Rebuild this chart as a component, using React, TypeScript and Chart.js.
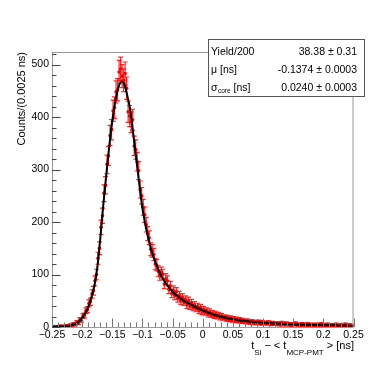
import { useEffect, useRef } from "react";
import { Chart, registerables } from "chart.js";
Chart.register(...registerables);

const FONT = "'Liberation Sans', Arial, Helvetica, sans-serif";

// Histogram: 200 bins of 0.0025 ns from -0.25 to 0.25 ns
const binLow = -0.25;
const binWidth = 0.0025;
const counts = [
  0, 1, 0, 1, 0, 2, 1, 0, 2, 1,
  3, 2, 4, 3, 6, 5, 9, 8, 14, 13,
  21, 22, 31, 33, 45, 48, 63, 69, 88, 100,
  131, 150, 190, 212, 255, 270, 310, 326, 365, 376,
  412, 418, 448, 452, 486, 492, 478, 470, 483, 455,
  410, 402, 390, 395, 345, 338, 315, 298, 262, 250,
  228, 214, 195, 178, 170, 148, 145, 138, 120, 118,
  106, 99, 104, 100, 82, 92, 88, 72, 78, 64,
  70, 60, 67, 55, 60, 50, 56, 48, 52, 42,
  50, 40, 46, 37, 42, 35, 39, 31, 37, 29,
  33, 28, 31, 24, 29, 23, 26, 21, 25, 20,
  23, 18, 21, 17, 19, 15, 18, 14, 17, 13,
  16, 12, 15, 11, 14, 10, 13, 11, 9, 12,
  10, 8, 11, 9, 7, 10, 8, 10, 6, 9,
  7, 8, 6, 9, 7, 5, 8, 6, 7, 5,
  7, 4, 8, 6, 4, 7, 5, 6, 3, 6,
  5, 7, 4, 5, 3, 6, 4, 5, 3, 6,
  4, 3, 5, 4, 2, 5, 3, 4, 6, 3,
  4, 2, 5, 3, 4, 2, 4, 3, 5, 2,
  3, 4, 2, 3, 5, 2, 3, 4, 2, 3,
];

// Fit curve sampled every 0.005 ns from -0.25 to 0.25
const fitStart = -0.25;
const fitStep = 0.005;
const fitValues = [
  0.2, 0.3, 0.5, 0.8, 1.2, 2, 3, 4.5, 7, 11,
  17, 26, 38, 55, 77, 112, 168, 232, 290, 345,
  393, 430, 456, 468, 463, 440, 412, 365, 318, 270,
  226, 194, 168, 145, 128, 113, 100, 90, 81, 74,
  67, 62, 57, 53, 49, 46, 43, 40, 37, 34.5,
  32, 29.5, 27, 25, 23, 21.5, 20, 18.5, 17, 16,
  15, 14, 13, 12.2, 11.5, 10.8, 10, 9.5, 9, 8.5,
  8, 7.6, 7.2, 6.9, 6.5, 6.2, 6, 5.7, 5.5, 5.2,
  5, 4.8, 4.6, 4.4, 4.2, 4.1, 4, 3.8, 3.7, 3.6,
  3.5, 3.4, 3.3, 3.2, 3.1, 3, 2.9, 2.8, 2.7, 2.6,
  2.5,
];

const xTickValues = [-0.25, -0.2, -0.15, -0.1, -0.05, 0, 0.05, 0.1, 0.15, 0.2, 0.25];
const xTickLabels = ["\u22120.25", "\u22120.2", "\u22120.15", "\u22120.1", "\u22120.05", "0", "0.05", "0.1", "0.15", "0.2", "0.25"];
const yTickValues = [0, 100, 200, 300, 400, 500];
const yTickLabels = ["0", "100", "200", "300", "400", "500"];
const xMinorStep = 0.01;
const yMinorStep = 20;
const xRange = [-0.25, 0.25];
const yRange = [0, 524];

const yTitle = "Counts/(0.0025 ns)";
const statsValues = ["38.38 \u00b1 0.31", "-0.1374 \u00b1 0.0003", "0.0240 \u00b1 0.0003"];

const rootPlugin = {
  id: "rootStyle",
  beforeDatasetsDraw(chart: any) {
    const { ctx, chartArea: a, scales } = chart;
    const x = scales.x, y = scales.y;
    ctx.save();
    ctx.beginPath();
    ctx.rect(a.left, a.top, a.right - a.left, a.bottom - a.top);
    ctx.clip();
    ctx.strokeStyle = "rgba(255,0,0,0.85)";
    ctx.lineWidth = 1.2;
    counts.forEach((c, i) => {
      const e = Math.sqrt(c);
      const px = x.getPixelForValue(binLow + binWidth * (i + 0.5));
      const top = y.getPixelForValue(c + e);
      const bot = y.getPixelForValue(Math.max(c - e, 0));
      ctx.beginPath();
      ctx.moveTo(px - 0.75, y.getPixelForValue(c));
      ctx.lineTo(px + 0.75, y.getPixelForValue(c));
      if (e > 0) {
        ctx.moveTo(px, top);
        ctx.lineTo(px, bot);
        ctx.moveTo(px - 2.5, top);
        ctx.lineTo(px + 2.5, top);
        ctx.moveTo(px - 2.5, bot);
        ctx.lineTo(px + 2.5, bot);
      }
      ctx.stroke();
    });
    ctx.restore();
  },
  afterDraw(chart: any) {
    const { ctx, chartArea: a, scales } = chart;
    const x = scales.x, y = scales.y;
    ctx.save();
    // frame
    ctx.strokeStyle = "#999";
    ctx.lineWidth = 1;
    ctx.strokeRect(a.left + 0.5, a.top + 0.5, a.right - a.left - 1, a.bottom - a.top);
    // x ticks
    ctx.strokeStyle = "#777";
    const nx = Math.round((xRange[1] - xRange[0]) / xMinorStep);
    for (let k = 0; k <= nx; k++) {
      const v = xRange[0] + k * xMinorStep;
      const px = Math.round(x.getPixelForValue(v)) + 0.5;
      const major = k % 5 === 0;
      ctx.beginPath();
      ctx.moveTo(px, a.bottom);
      ctx.lineTo(px, a.bottom - (major ? 8.5 : 4.5));
      ctx.stroke();
    }
    // y ticks
    ctx.strokeStyle = "#444";
    for (let v = yRange[0]; v <= yRange[1]; v += yMinorStep) {
      const py = Math.round(y.getPixelForValue(v)) + 0.5;
      const major = v % 100 === 0;
      ctx.beginPath();
      ctx.moveTo(a.left, py);
      ctx.lineTo(a.left + (major ? 8.5 : 4.5), py);
      ctx.stroke();
    }
    // y title
    ctx.fillStyle = "#000";
    ctx.save();
    ctx.translate(22, a.top);
    ctx.rotate(-Math.PI / 2);
    ctx.font = `11px ${FONT}`;
    ctx.textAlign = "right";
    ctx.textBaseline = "middle";
    ctx.fillText(yTitle, 0, 0);
    ctx.restore();
    // x title with subscripts, right aligned to the axis end
    const main = `11px ${FONT}`;
    const sub = `8px ${FONT}`;
    const parts: [string, string, number][] = [
      ["t", main, 0],
      ["Si", sub, 1],
      [" \u2212 < ", main, 0],
      ["t", main, 0],
      ["MCP-PMT", sub, 1],
      [" > [ns]", main, 0],
    ];
    let total = 0;
    for (const [t, f] of parts) { ctx.font = f; total += ctx.measureText(t).width; }
    let cx = a.right + 0.5 - total;
    ctx.textAlign = "left";
    ctx.textBaseline = "alphabetic";
    for (const [t, f, s] of parts) {
      ctx.font = f;
      ctx.fillText(t, cx, s ? 354.5 : 348.5);
      cx += ctx.measureText(t).width;
    }
    // stats box
    const bx = 208.5, by = 39.5, bw = 156, bh = 57;
    ctx.fillStyle = "#fff";
    ctx.fillRect(bx, by, bw, bh);
    ctx.strokeStyle = "#555";
    ctx.strokeRect(bx, by, bw, bh);
    ctx.fillStyle = "#000";
    const sf = `10.5px ${FONT}`;
    const rows = [54.5, 72.5, 90.5];
    ctx.font = sf;
    ctx.textAlign = "left";
    ctx.fillText("Yield/200", 211, rows[0]);
    ctx.fillText("\u03bc [ns]", 211, rows[1]);
    ctx.fillText("\u03c3", 211, rows[2]);
    const sw = ctx.measureText("\u03c3").width;
    ctx.font = `6.5px ${FONT}`;
    ctx.fillText("core", 211 + sw + 0.5, rows[2] + 2);
    const cw = ctx.measureText("core").width;
    ctx.font = sf;
    ctx.fillText(" [ns]", 211 + sw + cw + 0.5, rows[2]);
    ctx.textAlign = "right";
    statsValues.forEach((t, i) => ctx.fillText(t, 357, rows[i]));
    ctx.restore();
  },
};

export default function App() {
  const ref = useRef<HTMLCanvasElement>(null);
  useEffect(() => {
    if (!ref.current) return;
    const dataPts = counts.map((c, i) => ({ x: binLow + binWidth * (i + 0.5), y: c }));
    const fitPts = fitValues.map((v, i) => ({ x: fitStart + fitStep * i, y: v }));
    const chart = new Chart(ref.current, {
      type: "scatter",
      data: {
        datasets: [
          {
            type: "line",
            label: "fit",
            data: fitPts,
            borderColor: "#000",
            borderWidth: 2,
            pointRadius: 0,
            cubicInterpolationMode: "monotone",
            order: 0,
          } as any,
          {
            type: "scatter",
            label: "data",
            data: dataPts,
            pointRadius: 1.8,
            pointBackgroundColor: "#ff0000",
            pointBorderWidth: 0,
            order: 1,
          } as any,
        ],
      },
      options: {
        responsive: false,
        animation: false,
        devicePixelRatio: 1,
        layout: { padding: { left: 0, top: 52, right: 27.5, bottom: 0 } },
        plugins: { legend: { display: false }, tooltip: { enabled: false } },
        scales: {
          x: {
            type: "linear",
            min: xRange[0],
            max: xRange[1],
            grid: { display: false, drawTicks: false },
            border: { display: false },
            afterBuildTicks: (s: any) => { s.ticks = xTickValues.map((v) => ({ value: v })); },
            afterFit: (s: any) => { s.height = 54; },
            ticks: {
              callback: (_v: any, i: number) => xTickLabels[i],
              font: { family: FONT, size: 10.5 },
              color: "#000",
              padding: 2,
              maxRotation: 0,
              autoSkip: false,
            },
          },
          y: {
            type: "linear",
            min: yRange[0],
            max: yRange[1],
            grid: { display: false, drawTicks: false },
            border: { display: false },
            afterBuildTicks: (s: any) => { s.ticks = yTickValues.map((v) => ({ value: v })); },
            afterFit: (s: any) => { s.width = 52; },
            ticks: {
              callback: (_v: any, i: number) => yTickLabels[i],
              font: { family: FONT, size: 10.5 },
              color: "#000",
              padding: 3,
              autoSkip: false,
            },
          },
        },
      } as any,
      plugins: [rootPlugin],
    });
    return () => chart.destroy();
  }, []);
  return (
    <div style={{ position: "fixed", left: 0, top: 0, width: 381, height: 381, background: "#fff" }}>
      <canvas ref={ref} width={381} height={381} style={{ display: "block", width: 381, height: 381 }} />
    </div>
  );
}
